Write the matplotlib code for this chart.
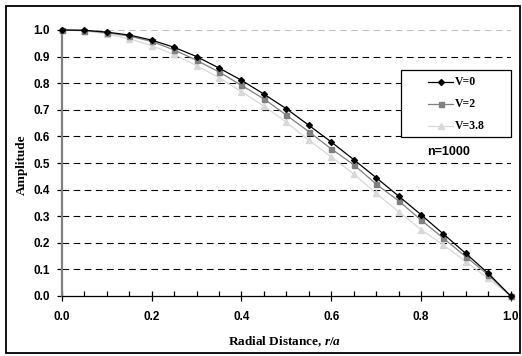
import matplotlib
matplotlib.use("Agg")
import matplotlib.pyplot as plt
from matplotlib.patches import Rectangle
from matplotlib.ticker import MultipleLocator
import numpy as np

plt.rcParams["mathtext.fontset"] = "custom"
plt.rcParams["mathtext.it"] = "Liberation Serif:italic:bold"
plt.rcParams["mathtext.rm"] = "Liberation Serif:bold"

r = [0.0, 0.05, 0.1, 0.15, 0.2, 0.25, 0.3, 0.35, 0.4, 0.45, 0.5,
     0.55, 0.6, 0.65, 0.7, 0.75, 0.8, 0.85, 0.9, 0.95, 1.0]
v0 = [1.0, 0.999, 0.992, 0.981, 0.962, 0.935, 0.900, 0.857, 0.811, 0.759, 0.704,
      0.642, 0.579, 0.513, 0.445, 0.376, 0.306, 0.233, 0.160, 0.085, 0.0]
v2 = [1.0, 0.998, 0.990, 0.977, 0.957, 0.925, 0.886, 0.842, 0.792, 0.741, 0.680,
      0.618, 0.553, 0.494, 0.421, 0.358, 0.286, 0.217, 0.148, 0.079, 0.0]
v38 = [1.0, 0.997, 0.985, 0.967, 0.941, 0.908, 0.866, 0.821, 0.768, 0.714, 0.653,
       0.586, 0.523, 0.459, 0.386, 0.317, 0.250, 0.192, 0.129, 0.066, 0.0]
labels = ["V=0", "V=2", "V=3.8"]
xticks = [0.0, 0.2, 0.4, 0.6, 0.8, 1.0]
yticks = [0.0, 0.1, 0.2, 0.3, 0.4, 0.5, 0.6, 0.7, 0.8, 0.9, 1.0]

W, H = 522, 356
fig = plt.figure(figsize=(W/100, H/100), dpi=100)
AX0, AX1, AY0, AY1 = 62, 510.7, 296, 30
ax = fig.add_axes([AX0/W, 1-AY0/H, (AX1-AX0)/W, (AY0-AY1)/H])

def axx(px):
    return (px-AX0)/(AX1-AX0)

def axy(py):
    return (AY0-py)/(AY0-AY1)

sans = ["Liberation Sans", "DejaVu Sans"]
serif = ["Liberation Serif", "DejaVu Serif"]

styles = [dict(color="black", marker="D", ms=3.0),
          dict(color="#808080", marker="s", ms=3.6),
          dict(color="#d8d8d8", marker="^", ms=4.0)]
for ys, st, z in zip([v0, v2, v38], styles, [5, 4, 3]):
    ax.plot(r, ys, lw=0.9, clip_on=False, zorder=z, **st)

ax.set_xlim(0, 1)
ax.set_ylim(0, 1)
ax.set_xticks(xticks)
ax.xaxis.set_minor_locator(MultipleLocator(0.05))
ax.set_yticks(yticks)

for yv in yticks[1:]:
    col = "#c0c0c0" if yv > 0.95 else "black"
    ax.axhline(yv, color=col, lw=0.8, dashes=(6, 4), zorder=1)

for s in ["top", "right"]:
    ax.spines[s].set_visible(False)
ax.spines["left"].set_color("#808080")
ax.spines["left"].set_linewidth(1.6)
ax.spines["bottom"].set_color("black")
ax.spines["bottom"].set_linewidth(0.9)

ax.tick_params(axis="x", which="major", direction="inout", length=7, width=0.9, pad=7)
ax.tick_params(axis="x", which="minor", direction="in", length=3.5, width=0.9)
ax.tick_params(axis="y", which="major", direction="out", length=3.5, width=0.9, color="black", pad=5)

ax.set_xticklabels([f"{v:.1f}" for v in xticks], fontfamily=sans, fontweight="bold", fontsize=8.5)
ax.set_yticklabels([f"{v:.1f}" for v in yticks], fontfamily=sans, fontweight="bold", fontsize=8.5)

fig.text(284.5/W, 1-342/H, r"Radial Distance, $\mathit{r/a}$", ha="center", va="center",
         fontfamily=serif, fontweight="bold", fontsize=9.5)
fig.text(22/W, 1-164.5/H, "Amplitude", ha="center", va="center", rotation=90,
         fontfamily=serif, fontweight="bold", fontsize=9.5)

# legend box (drawn manually)
bx0, bx1, by0, by1 = 401, 510.7, 70, 137
ax.add_patch(Rectangle((axx(bx0), axy(by1)), axx(bx1)-axx(bx0), axy(by0)-axy(by1),
                       transform=ax.transAxes, facecolor="white", edgecolor="black",
                       lw=0.9, zorder=9, clip_on=False))
for lab, st, py in zip(labels, styles, [81.7, 104, 125.7]):
    ax.plot([axx(428), axx(453)], [axy(py), axy(py)], transform=ax.transAxes, lw=0.9,
            color=st["color"], zorder=10, clip_on=False)
    ax.plot([axx(440.5)], [axy(py)], transform=ax.transAxes, lw=0, zorder=11, clip_on=False, **st)
    ax.text(axx(455), axy(py), lab, transform=ax.transAxes, ha="left", va="center",
            fontfamily=serif, fontweight="bold", fontsize=8.5, zorder=11)

ax.text(axx(426.7), axy(152), "n=1000", transform=ax.transAxes, ha="left", va="center",
        fontfamily=sans, fontweight="bold", fontsize=9)

fig.patches.append(Rectangle((6/W, 1-353/H), (520-6)/W, (353-6)/H, transform=fig.transFigure,
                             fill=False, edgecolor="black", lw=1.3))

fig.savefig("out.png", dpi=100)
